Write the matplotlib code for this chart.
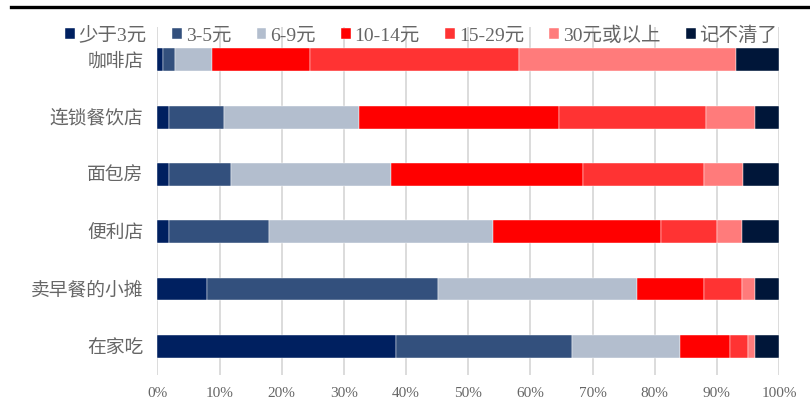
import matplotlib.pyplot as plt
import numpy as np
from matplotlib.lines import Line2D

plt.rcParams['font.family'] = ['Liberation Serif', 'Noto Sans CJK SC', 'DejaVu Sans']

# Share of spending per breakfast, by place (%)
places = ['咖啡店', '连锁餐饮店', '面包房', '便利店', '卖早餐的小摊', '在家吃']
bands = ['少于3元', '3-5元', '6-9元', '10-14元', '15-29元', '30元或以上', '记不清了']
shares = [
    [0.9, 2.0, 5.8, 15.8, 33.7, 34.9, 6.9],    # 咖啡店
    [1.9, 8.8, 21.7, 32.2, 23.7, 7.8, 3.9],    # 连锁餐饮店
    [1.9, 10.0, 25.7, 30.9, 19.5, 6.2, 5.8],   # 面包房
    [1.8, 16.1, 36.1, 27.0, 9.0, 4.1, 5.9],    # 便利店
    [7.9, 37.2, 32.0, 10.9, 6.1, 2.0, 3.9],    # 卖早餐的小摊
    [38.4, 28.3, 17.3, 8.1, 2.9, 1.1, 3.9],    # 在家吃
]
colors = ['#002060', '#33507D', '#B3BECE', '#FF0000', '#FF3333', '#FF7B7B', '#001639']
xticks = np.arange(0, 101, 10)
xtick_labels = [f'{v}%' for v in xticks]

fig = plt.figure(figsize=(8.1, 4.11), dpi=100)
ax = fig.add_axes([0.1944, 0.0876, 0.7673, 0.8464])

data = np.array(shares)
y = np.arange(len(places))
left = np.zeros(len(places))
for j, band in enumerate(bands):
    ax.barh(y, data[:, j], left=left, height=0.4, color=colors[j],
            edgecolor='white', linewidth=0.3, label=band, zorder=3)
    left += data[:, j]

ax.set_xlim(0, 100)
ax.set_ylim(5.5, -0.57)
ax.set_xticks(xticks)
ax.set_xticklabels(xtick_labels, fontsize=11, color='#666666')
ax.set_yticks(y)
ax.set_yticklabels(places, fontsize=13.5, color='#666666')
ax.tick_params(axis='x', length=0, pad=9)
ax.tick_params(axis='y', length=0, pad=10)
ax.grid(axis='x', color='#D9D9D9', linewidth=1.3, zorder=0)
for s in ax.spines.values():
    s.set_visible(False)

fig.legend(loc='center', bbox_to_anchor=(0.52, 0.914), ncol=7, frameon=False,
           fontsize=14, handlelength=0.5, handleheight=0.5, handletextpad=0.2,
           columnspacing=1.3, labelcolor='#666666', borderaxespad=0)

# heavy rule along the top edge
fig.add_artist(Line2D([0.0136, 1.0], [0.984, 0.984], color='black', linewidth=2.4,
                      transform=fig.transFigure))

fig.savefig('out.png', dpi=100)
